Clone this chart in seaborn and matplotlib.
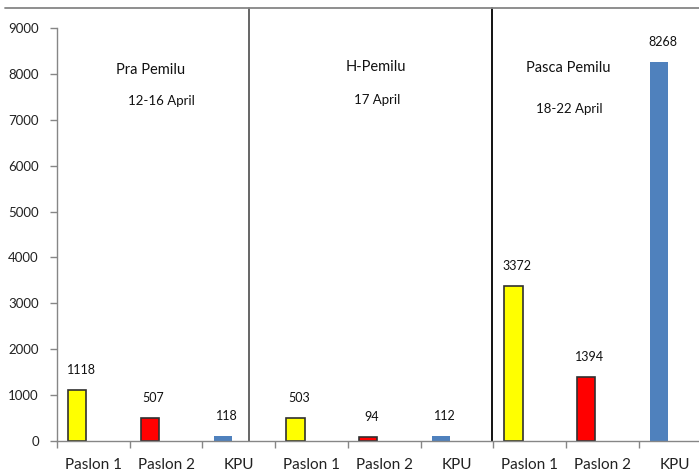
import matplotlib
matplotlib.use("Agg")
import matplotlib.pyplot as plt
import seaborn as sns
import pandas as pd
import numpy as np
from matplotlib.lines import Line2D

categories = ["Paslon 1", "Paslon 2", "KPU"] * 3
values = [1118, 507, 118, 503, 94, 112, 3372, 1394, 8268]
series = ["Paslon 1", "Paslon 2", "KPU"] * 3
group_titles = ["Pra Pemilu", "H-Pemilu", "Pasca Pemilu"]
group_dates = ["12-16 April", "17 April", "18-22 April"]
yticks = [0, 1000, 2000, 3000, 4000, 5000, 6000, 7000, 8000, 9000]

sns.set_theme(style="white")
plt.rcParams['font.family'] = ['Lato', 'DejaVu Sans']

fig = plt.figure(figsize=(6.99, 4.73), dpi=100)
ax = fig.add_axes([57/699, 32/473, 1 - 57/699, 413/473])

df = pd.DataFrame({"pos": np.arange(len(values)), "value": values, "series": series})
palette = {"Paslon 1": "#FFFF00", "Paslon 2": "#FF0000", "KPU": "#4F81BD"}
sns.barplot(data=df, x="pos", y="value", hue="series", palette=palette,
            dodge=False, width=0.25, native_scale=True, legend=False, ax=ax,
            saturation=1, errorbar=None)

offset = -0.22
for p in ax.patches:
    p.set_x(p.get_x() + offset)
    fc = p.get_facecolor()
    if fc[2] < 0.5:  # yellow / red with dark edge
        p.set_edgecolor("#303030")
        p.set_linewidth(1.2)
    else:
        p.set_edgecolor("none")

for i, v in enumerate(values):
    ax.annotate(str(v), (i + offset + 0.05, v), xytext=(0, 10), textcoords="offset points",
                ha="center", va="bottom", fontsize=9, color="#111111")

ax.set_yticks(yticks)
ax.set_yticklabels([str(t) for t in yticks], fontsize=9.5, color="#222222")
ax.set_xticks(np.arange(len(values)))
ax.set_xticklabels(categories, fontsize=11, color="#222222")
ax.set_xticks(np.arange(len(values) + 1) - 0.5, minor=True)
ax.tick_params(axis="x", which="major", length=0, pad=12)
ax.tick_params(axis="x", which="minor", length=5, color="#868686", width=1, direction="out", bottom=True)
ax.tick_params(axis="y", length=5, color="#868686", width=1, direction="out", left=True, pad=8)
ax.set_xlabel("")
ax.set_ylabel("")
for s in ["top", "right"]:
    ax.spines[s].set_visible(False)
for s in ["left", "bottom"]:
    ax.spines[s].set_color("#868686")
    ax.spines[s].set_linewidth(1)

# group separators
ytop = 9436
ax.plot([2.14, 2.14], [0, ytop], color="#595959", lw=1.3, clip_on=False, scalex=False, scaley=False)
ax.plot([5.48, 5.48], [0, ytop], color="#000000", lw=1.3, clip_on=False, scalex=False, scaley=False)
fig.add_artist(Line2D([5/699, 1], [(473-8)/473, (473-8)/473], color="#868686", lw=1.3))

# group titles
title_x = [0.79, 3.89, 6.53]
title_y = [8085, 8150, 8130]
date_x = [0.94, 3.90, 6.55]
date_y = [7410, 7430, 7240]
for tx, ty, dx, dy, t, d in zip(title_x, title_y, date_x, date_y, group_titles, group_dates):
    ax.text(tx, ty, t, ha="center", va="center", fontsize=10.5, color="#111111")
    ax.text(dx, dy, d, ha="center", va="center", fontsize=9.5, color="#111111")

ax.set_autoscale_on(False)
ax.set_xlim(-0.5, -0.5 + 642 / 72.7)
ax.set_ylim(0, 9000)

fig.savefig("out.png", dpi=100)
